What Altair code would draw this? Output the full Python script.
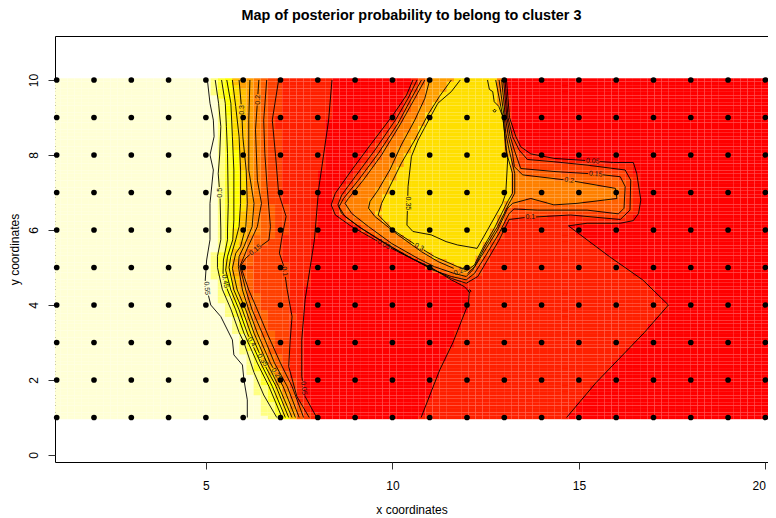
import math
import altair as alt
import pandas as pd

alt.data_transformers.disable_max_rows()

TITLE = "Map of posterior probability to belong to cluster  3"
X_TICKS = [5, 10, 15, 20]
Y_TICKS = [0, 2, 4, 6, 8, 10]
GRID_X = list(range(1, 21))
GRID_Y = list(range(1, 11))
N_CELLS = 100

# contour lines: (x, y) in data units
# left family, running from y=10 to y=1
LEFT_055 = [(5.04,10),(5.11,9.38),(5.2,8.93),(5.22,8.49),(5.11,8.0),(5.2,7.6),(5.11,6.71),(5.11,5.74),(5.02,5.2),(4.98,4.62),(5.13,4.0),(5.4,3.69),(5.71,3.07),(5.75,2.67),(5.98,2.4),(6.02,2.0),(6.11,1.47),(6.11,1.0)]
LEFT_050 = [(5.25,10),(5.34,9.38),(5.4,8.76),(5.37,8),(5.33,7.5),(5.38,6.9),(5.4,6),(5.4,5.74),(5.31,5.3),(5.31,5),(5.44,4.42),(5.67,3.89),(5.89,3.27),(6.02,3.0),(6.29,2.2),(6.55,1.6),(6.9,1.0)]
LEFT_045 = [(5.42,10),(5.52,9.38),(5.55,8.76),(5.58,8.04),(5.6,6.71),(5.58,6),(5.58,5.74),(5.47,5.2),(5.46,4.85),(5.58,4.4),(5.8,3.87),(6.02,3.25),(6.38,2.45),(6.69,1.83),(7.04,1)]
LEFT_040 = [(5.56,10),(5.67,9.38),(5.71,8.49),(5.75,7.6),(5.75,6.27),(5.72,5.74),(5.58,5.3),(5.53,4.93),(5.67,4.4),(5.89,3.87),(6.11,3.25),(6.47,2.45),(6.78,1.83),(7.13,1)]
LEFT_035 = [(5.71,10),(5.8,9.29),(5.89,8.49),(5.93,7.6),(5.93,6.71),(5.89,6.09),(5.8,5.74),(5.67,5.3),(5.62,5),(5.75,4.4),(5.98,3.87),(6.2,3.25),(6.55,2.45),(6.88,1.83),(7.22,1)]
LEFT_030 = [(5.89,10),(5.96,9.2),(5.99,8.49),(6.08,7.6),(6.11,6.71),(6.07,6.09),(5.93,5.56),(5.8,5.38),(5.71,4.98),(5.84,4.4),(6.07,3.87),(6.29,3.25),(6.64,2.45),(6.95,1.83),(7.31,1)]
LEFT_025 = [(6.18,10),(6.15,8.93),(6.15,7.6),(6.29,6.71),(6.24,6.09),(6.02,5.56),(5.89,5.29),(5.87,5.03),(5.98,4.4),(6.15,3.87),(6.38,3.25),(6.73,2.45),(7.07,1.83),(7.4,1)]
LEFT_020 = [(6.42,10),(6.33,8.67),(6.38,7.33),(6.49,6.71),(6.38,6.09),(6.11,5.51),(6.02,5.29),(5.91,5.03),(6.07,4.4),(6.24,3.87),(6.51,3.25),(6.84,2.45),(7.18,1.83),(7.5,1)]
LEFT_015 = [(6.63,10),(6.55,8.93),(6.58,8.04),(6.64,7.16),(6.73,6.09),(6.69,5.73),(6.33,5.47),(6.07,5.25),(5.93,5.04),(6.15,4.4),(6.38,3.87),(6.64,3.25),(7,2.45),(7.31,1.83),(7.62,1)]
LEFT_010 = [(6.95,10),(6.78,8.93),(6.87,7.96),(6.95,6.98),(7.15,6.36),(7.04,5.82),(6.97,5.38),(7.09,5.03),(7.18,4.4),(7.31,3.69),(7.26,3.07),(7.22,2.36),(7.44,1.56),(7.77,1)]
LEFT_005 = [(8.38,10),(8.29,8.93),(8.11,7.69),(8.02,7.07),(7.91,5.74),(7.66,4.14),(7.57,3.07),(7.57,2.09),(7.66,1.56),(7.97,1)]

# island family, starting and ending on the top edge
ISLE_035 = [(11.82,10),(11.58,9.69),(11.22,9.38),(11,8.98),(10.69,8.4),(10.51,7.96),(10.42,7.16),(10.39,6.13),(10.55,5.96),(11.04,5.87),(11.44,5.69),(11.75,5.6),(12.27,5.51),(12.55,6),(12.95,6.71),(13.04,6.98),(13.09,7.87),(13,8.67),(12.96,9.02),(12.85,9.3),(12.73,9.42),(12.69,9.69),(12.6,9.75),(12.55,10)]
ISLE_030 = [(11.58,10),(11.26,9.56),(10.95,9.07),(10.6,8.4),(10.24,7.78),(9.93,7.16),(9.71,6.71),(9.62,6.4),(10.02,6),(10.69,5.56),(11.13,5.29),(11.75,5.02),(12.02,4.93),(12.2,5.07),(12.42,5.51),(12.73,6.04),(13.09,6.76),(13.22,6.98),(13.22,7.51),(13.04,8.13),(13,8.67),(12.96,9.02),(12.77,10)]
ISLE_025 = [(11,10),(10.87,9.51),(10.6,8.93),(10.24,8.27),(9.93,7.6),(9.62,7.07),(9.4,6.76),(9.36,6.58),(9.53,6.36),(10.15,5.87),(10.78,5.42),(11.22,5.16),(11.75,4.93),(12.02,4.84),(12.2,5.02),(12.46,5.51),(12.82,6.09),(13.13,6.71),(13.28,6.98),(13.28,7.51),(13.13,8.13),(13.04,8.58),(13,9),(12.86,10)]
ISLE_020 = [(10.87,10),(10.6,9.51),(10.2,8.8),(9.71,8),(9.22,7.33),(8.82,6.84),(8.73,6.71),(8.91,6.44),(9.36,6.09),(9.98,5.64),(10.69,5.24),(11.13,5.02),(11.66,4.84),(11.98,4.76),(12.15,4.93),(12.46,5.42),(12.82,6.0),(13.09,6.58),(13.22,6.71),(13.71,6.84),(14.33,6.67),(14.95,6.71),(16.02,6.84),(15.98,7.11),(14.76,7.32),(13.49,7.47),(13.27,7.69),(13.22,8.04),(13.11,8.49),(13.03,9),(12.93,10)]
ISLE_015 = [(10.78,10),(10.51,9.51),(10.15,8.84),(9.62,8.04),(9.09,7.33),(8.69,6.84),(8.57,6.62),(8.73,6.36),(9.18,6.04),(9.89,5.6),(10.6,5.2),(11.09,4.93),(11.58,4.76),(11.98,4.67),(12.2,4.84),(12.51,5.33),(12.86,5.91),(13.13,6.44),(13.26,6.56),(13.89,6.53),(15.22,6.53),(16.06,6.43),(16.21,6.58),(16.24,7.16),(16.11,7.42),(15.47,7.49),(14.33,7.56),(13.44,7.64),(13.27,8.13),(13.16,8.49),(13.07,9),(12.98,10)]
ISLE_010 = [(10.66,10),(10.42,9.51),(10.08,8.93),(9.53,8.13),(9.0,7.42),(8.64,6.93),(8.54,6.67),(8.64,6.44),(9.09,6.09),(9.8,5.64),(10.51,5.24),(11.04,4.98),(11.58,4.71),(11.98,4.58),(12.29,4.76),(12.55,5.2),(12.86,5.73),(13.13,6.28),(13.53,6.33),(14.78,6.4),(16.11,6.28),(16.37,6.53),(16.39,7.33),(16.24,7.6),(15.22,7.73),(14.33,7.82),(13.62,7.88),(13.4,8.13),(13.22,8.49),(13.1,9),(13.02,10)]
ISLE_005_A = [(10.55,10),(10.38,9.6),(10.02,9.07),(9.44,8.31),(8.91,7.6),(8.47,6.98),(8.36,6.67),(8.47,6.4),(8.91,6.09),(9.62,5.69),(10.33,5.33),(11,5.02),(11.58,4.67),(11.93,4.49),(12.06,4.35),(12.04,4.05),(11.62,2.99),(11.27,2.27),(10.77,1.0)]
ISLE_005_B = [(14.67,1.0),(15.46,1.93),(16.75,3.26),(17.4,4.0),(16.71,4.67),(15.82,5.29),(14.72,6.11),(15.22,6.18),(16.11,6.18),(16.46,6.25),(16.6,6.44),(16.66,6.8),(16.55,7.51),(16.46,7.8),(15.93,7.8),(15.22,7.85),(14.33,7.91),(13.71,8.03),(13.44,8.22),(13.31,8.49),(13.14,9),(13.06,10)]
LOOP_A = [(12.7,9.18),(12.74,9.22),(12.78,9.18),(12.74,9.14),(12.7,9.18)]
LOOP_B = [(12.03,4.37),(12.07,4.41),(12.11,4.37),(12.07,4.33),(12.03,4.37)]

CONTOURS = {"L55": LEFT_055, "L50": LEFT_050, "L45": LEFT_045, "L40": LEFT_040, "L35": LEFT_035,
            "L30": LEFT_030, "L25": LEFT_025, "L20": LEFT_020, "L15": LEFT_015, "L10": LEFT_010,
            "L05": LEFT_005, "I35": ISLE_035, "I30": ISLE_030, "I25": ISLE_025, "I20": ISLE_020,
            "I15": ISLE_015, "I10": ISLE_010, "I05A": ISLE_005_A, "I05B": ISLE_005_B,
            "LA": LOOP_A, "LB": LOOP_B}

# contour labels: x, y, text, angle, contour they sit on
LABEL_X = [5.35, 5.04, 5.48, 6.33, 7.06, 7.61, 6.17, 6.52, 6.86, 5.95, 6.42, 9.79, 10.72, 11.83, 10.39, 13.7, 15.37, 15.45, 14.74]
LABEL_Y = [6.99, 4.45, 4.62, 5.47, 4.89, 1.78, 2.99, 2.53, 2.13, 9.2, 9.47, 5.65, 5.55, 4.91, 6.71, 6.31, 7.85, 7.49, 7.31]
LABEL_T = ["0.5", "0.55", "0.45", "0.15", "0.1", "0.05", "0.4", "0.35", "0.25", "0.3", "0.2", "0.05", "0.3", "0.25", "0.35", "0.1", "0.05", "0.15", "0.2"]
LABEL_A = [270, 85, 80, 320, 80, 85, 55, 55, 55, 270, 270, 30, 28, 340, 90, 0, 5, 5, 10]
LABEL_ON = ["L50", "L55", "L45", "L15", "L10", "L05", "L40", "L35", "L25", "L30", "L20", "I05A", "I30", "I25", "I35", "I10", "I05B", "I15", "I20"]

# heat.colors(12)
PALETTE = ["#FF0000", "#FF2000", "#FF4000", "#FF6000", "#FF8000", "#FF9F00", "#FFBF00", "#FFDF00", "#FFFF00", "#FFFF2A", "#FFFF80", "#FFFFD5"]
# for each colour step: lower contour, upper contour, position between them (left side of the map)
LEFT_STEPS = [(1, LEFT_005, LEFT_005, 0.0), (2, LEFT_005, LEFT_010, 0.9), (3, LEFT_010, LEFT_015, 0.8),
              (4, LEFT_015, LEFT_020, 0.8), (5, LEFT_020, LEFT_025, 0.74), (6, LEFT_025, LEFT_030, 0.7),
              (7, LEFT_030, LEFT_035, 0.6), (8, LEFT_035, LEFT_040, 0.6), (9, LEFT_040, LEFT_045, 0.54),
              (10, LEFT_045, LEFT_050, 0.5), (11, LEFT_050, LEFT_055, 0.4)]


def under_top(line):
    return line + [(line[-1][0], 11), (line[0][0], 11)]


WEDGE = ISLE_005_A + [(10.77, 0), (14.67, 0)] + ISLE_005_B
ISLE_STEPS = [(under_top(WEDGE), 1), (under_top(ISLE_010), 2), (under_top(ISLE_015), 3),
              (under_top(ISLE_020), 4), (under_top(ISLE_025), 5), (under_top(ISLE_030), 7)]


def inside(px, py, poly):
    hit = False
    j = len(poly) - 1
    for i in range(len(poly)):
        xi, yi = poly[i]
        xj, yj = poly[j]
        if (yi > py) != (yj > py) and px < (xj - xi) * (py - yi) / (yj - yi) + xi:
            hit = not hit
        j = i
    return hit


def x_on(line, y):
    y = min(10, max(1, y))
    for (a0, b0), (a1, b1) in zip(line, line[1:]):
        if min(b0, b1) <= y <= max(b0, b1):
            return a0 + (a1 - a0) * (y - b0) / (b1 - b0) if b1 != b0 else a0
    return line[-1][0]


dx = 19 / (N_CELLS - 1)
dy = 9 / (N_CELLS - 1)
rows = []
for j in range(N_CELLS):
    cy = 1 + j * dy
    bounds = [(k, x_on(a, cy) + (x_on(b, cy) - x_on(a, cy)) * w) for k, a, b, w in LEFT_STEPS]
    for i in range(N_CELLS):
        cx = 1 + i * dx
        lvl = 0
        for k, b in bounds:
            if cx < b and k > lvl:
                lvl = k
        for poly, k in ISLE_STEPS:
            if k > lvl and inside(cx, cy, poly):
                lvl = k
        rows.append({"x": round(cx - dx / 2, 4), "x2": round(cx + dx / 2, 4),
                     "y": round(cy - dy / 2, 4), "y2": round(cy + dy / 2, 4), "c": PALETTE[lvl]})
cells = pd.DataFrame(rows)


def nearest(line, p):
    best = None
    for (a0, b0), (a1, b1) in zip(line, line[1:]):
        dxs, dys = a1 - a0, b1 - b0
        t = 0.0
        if dxs or dys:
            t = max(0.0, min(1.0, ((p[0] - a0) * dxs + (p[1] - b0) * dys) / (dxs * dxs + dys * dys)))
        q = (a0 + t * dxs, b0 + t * dys)
        d = math.hypot(q[0] - p[0], q[1] - p[1])
        if best is None or d < best[0]:
            best = (d, q)
    return best[1]


def cut(pieces, c, r):
    out = []
    for line in pieces:
        cur = [line[0]]
        for (a0, b0), (a1, b1) in zip(line, line[1:]):
            dxs, dys = a1 - a0, b1 - b0
            fx, fy = a0 - c[0], b0 - c[1]
            A = dxs * dxs + dys * dys
            B = 2 * (fx * dxs + fy * dys)
            C = fx * fx + fy * fy - r * r
            D = B * B - 4 * A * C
            t0, t1 = 2.0, 2.0
            if A > 0 and D > 0:
                t0 = (-B - math.sqrt(D)) / (2 * A)
                t1 = (-B + math.sqrt(D)) / (2 * A)
            if t1 <= 0 or t0 >= 1:
                cur.append((a1, b1))
                continue
            if t0 > 0:
                cur.append((a0 + t0 * dxs, b0 + t0 * dys))
            if len(cur) > 1:
                out.append(cur)
            cur = []
            if t1 < 1:
                cur = [(a0 + t1 * dxs, b0 + t1 * dys), (a1, b1)]
        if len(cur) > 1:
            out.append(cur)
    return out


label_xy = [nearest(CONTOURS[n], (a, b)) for n, a, b in zip(LABEL_ON, LABEL_X, LABEL_Y)]
line_rows = []
s = 0
for name, line in CONTOURS.items():
    pieces = [line]
    for n, q, t in zip(LABEL_ON, label_xy, LABEL_T):
        if n == name:
            pieces = cut(pieces, q, (len(t) * 1.75 + 0.5) / 37.5)
    for piece in pieces:
        for o, (a, b) in enumerate(piece):
            line_rows.append({"x": round(a, 4), "y": round(b, 4), "s": s, "o": o})
        s += 1
lines = pd.DataFrame(line_rows)

labels = pd.DataFrame({"x": [q[0] for q in label_xy], "y": [q[1] for q in label_xy], "t": LABEL_T, "a": LABEL_A})
dots = pd.DataFrame([{"x": a, "y": b} for a in GRID_X for b in GRID_Y])

FONT = "Liberation Sans"
xs = alt.Scale(domain=[0.9545, 20.07], nice=False, zero=False)
ys = alt.Scale(domain=[-0.187, 11.173], nice=False, zero=False)
xa = alt.Axis(values=X_TICKS, title="x coordinates", grid=False, domain=False, tickSize=7, tickColor="#333",
              labelFontSize=12, titleFontSize=12, labelFont=FONT, titleFont=FONT, titleFontWeight="normal",
              labelPadding=11, titlePadding=13, labelColor="#000", titleColor="#000", labelAngle=0, labelFlush=4)
ya = alt.Axis(values=Y_TICKS, title="y coordinates", grid=False, domain=False, tickSize=7, tickColor="#333",
              labelFontSize=12, titleFontSize=12, labelFont=FONT, titleFont=FONT, titleFontWeight="normal",
              labelPadding=8, titlePadding=6, labelColor="#000", titleColor="#000", labelAngle=270)
X = alt.X("x:Q", scale=xs, axis=xa)
Y = alt.Y("y:Q", scale=ys, axis=ya)

heat = alt.Chart(cells).mark_rect(clip=True, strokeWidth=0).encode(
    x=X, x2="x2:Q", y=Y, y2="y2:Q", color=alt.Color("c:N", scale=None, legend=None))
contour = alt.Chart(lines).mark_line(color="#000", strokeWidth=0.9).encode(
    x=X, y=Y, detail="s:N", order="o:Q")
text = alt.Chart(labels).mark_text(font=FONT, fontSize=7, color="#111").encode(
    x=X, y=Y, text="t:N", angle=alt.Angle("a:Q", scale=None))
points = alt.Chart(dots).mark_circle(color="#000", opacity=1, size=32).encode(x=X, y=Y)

chart = alt.layer(heat, contour, text, points).properties(
    width=713, height=426,
    padding={"left": 47, "top": 28, "right": 0, "bottom": 55},
    autosize=alt.AutoSizeParams(type="none"),
    title=alt.TitleParams(TITLE, font=FONT, fontSize=14.4, fontWeight="bold", anchor="middle", offset=13, color="#000"),
).configure_view(stroke="#000", strokeWidth=1)

chart.save("out.html", embed_options={"renderer": "svg", "actions": False})
